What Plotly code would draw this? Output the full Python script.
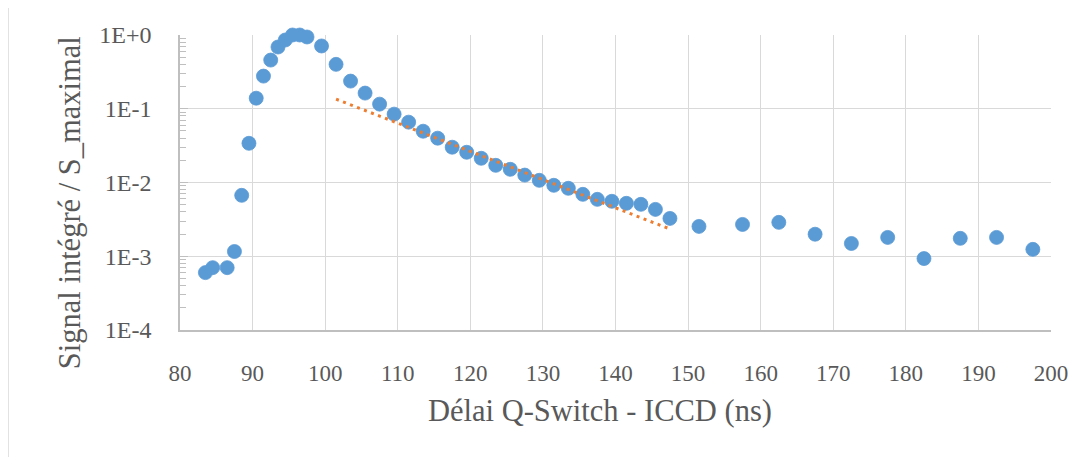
import plotly.graph_objects as go

# Data
delay_ns = [83.5, 84.5, 86.5, 87.5, 88.5, 89.5, 90.5, 91.5, 92.5, 93.5, 94.5, 95.5,
            96.5, 97.5, 99.5, 101.5, 103.5, 105.5, 107.5, 109.5, 111.5, 113.5, 115.5,
            117.5, 119.5, 121.5, 123.5, 125.5, 127.5, 129.5, 131.5, 133.5, 135.5,
            137.5, 139.5, 141.5, 143.5, 145.5, 147.5, 151.5, 157.5, 162.5, 167.5,
            172.5, 177.5, 182.5, 187.5, 192.5, 197.5]
signal = [6.0e-4, 7.0e-4, 7.0e-4, 1.16e-3, 6.7e-3, 0.034, 0.139, 0.277, 0.457, 0.687,
          0.855, 1.0, 1.0, 0.94, 0.71, 0.40, 0.237, 0.163, 0.1155, 0.0845, 0.0658,
          0.0496, 0.0399, 0.0301, 0.0257, 0.0213, 0.0171, 0.0151, 0.0126, 0.0107,
          0.00916, 0.00834, 0.00691, 0.00591, 0.00556, 0.00522, 0.00506, 0.00432,
          0.00326, 0.00254, 0.0027, 0.00288, 0.00199, 0.00149, 0.0018, 0.00093,
          0.00175, 0.0018, 0.00124]

# Exponential trendline end points
trend_x = [101.5, 147.5]
trend_y = [0.135, 0.00234]

x_ticks = [80, 90, 100, 110, 120, 130, 140, 150, 160, 170, 180, 190, 200]
y_tickvals = [1e-4, 1e-3, 1e-2, 1e-1, 1]
y_ticktext = ["1E-4", "1E-3", "1E-2", "1E-1", "1E+0"]

FONT = "'Liberation Serif', 'Times New Roman', 'DejaVu Serif', serif"
GRAY = "#595959"

fig = go.Figure()
fig.add_trace(go.Scatter(
    x=delay_ns, y=signal, mode="markers",
    marker=dict(size=14, color="#5B9BD5", line=dict(color="#5B9BD5", width=0.8)),
    cliponaxis=False, showlegend=False))
fig.add_trace(go.Scatter(
    x=trend_x, y=trend_y, mode="lines",
    line=dict(color="#ED7D31", width=3, dash="3px,4.5px"),
    showlegend=False))

OFF = 8  # page body margin
W, H = 1087 - OFF, 457 - OFF
L, T = 180 - OFF, 35 - OFF
pw = 871
ph = 294.7
R = W - L - pw
B = H - T - ph


def px_x(x):
    return (x - OFF - L) / pw


def px_y(y):
    return (T + ph - (y - OFF)) / ph


fig.update_layout(
    width=W, height=H,
    margin=dict(l=L, r=R, t=T, b=B),
    paper_bgcolor="white", plot_bgcolor="white",
    font=dict(family=FONT, color=GRAY),
    xaxis=dict(range=[80, 200], tickvals=x_ticks, showgrid=True,
               gridcolor="#D9D9D9", gridwidth=1.3,
               showline=True, linecolor="#BFBFBF", linewidth=1.5,
               ticks="", tickfont=dict(size=23, family=FONT, color=GRAY),
               ticklabelstandoff=22, zeroline=False),
    yaxis=dict(type="log", range=[-4, 0], tickvals=y_tickvals, ticktext=y_ticktext,
               showgrid=True, gridcolor="#D9D9D9", gridwidth=1.3,
               showline=True, linecolor="#BFBFBF", linewidth=1.5,
               ticks="inside", ticklen=8, tickcolor="#BFBFBF", tickwidth=1.3,
               minor=dict(ticks="inside", ticklen=6, tickcolor="#BFBFBF",
                          tickwidth=1.3, dtick="D1", showgrid=False),
               tickfont=dict(size=24, family=FONT, color=GRAY),
               ticklabelstandoff=22, zeroline=False),
    shapes=[dict(type="rect", xref="paper", yref="paper",
                 x0=px_x(8), x1=px_x(1120),
                 y0=px_y(490), y1=px_y(4),
                 line=dict(color="#D9D9D9", width=1.5), layer="below")],
    annotations=[
        dict(text="Délai Q-Switch - ICCD (ns)", xref="paper", yref="paper",
             x=px_x(600), y=px_y(411), xanchor="center", yanchor="middle",
             showarrow=False, font=dict(size=30.5, family=FONT, color=GRAY)),
        dict(text="Signal intégré / S_maximal", xref="paper", yref="paper",
             x=px_x(70), y=px_y(203), xanchor="center", yanchor="middle",
             textangle=-90, showarrow=False, font=dict(size=30.5, family=FONT, color=GRAY)),
    ],
)

fig.write_html("out.html")
